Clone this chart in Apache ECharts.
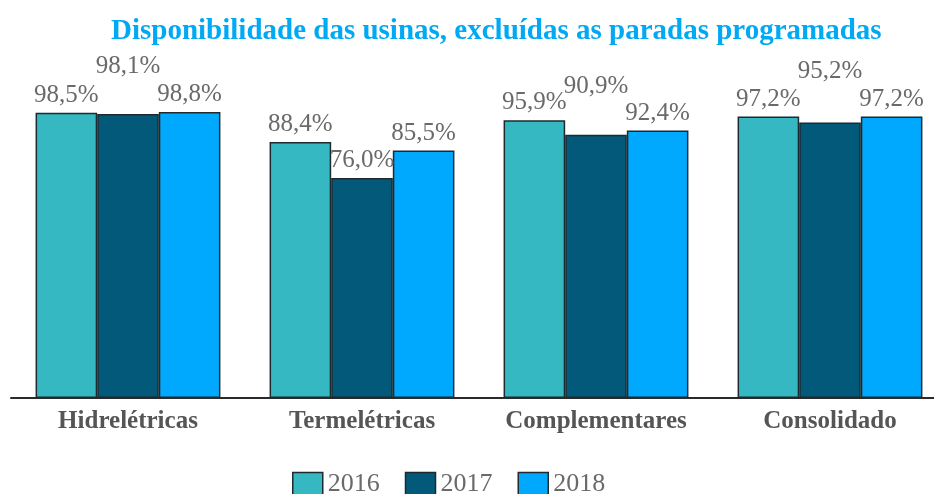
<!DOCTYPE html>
<html>
<head>
<meta charset="utf-8">
<script src="https://cdn.jsdelivr.net/npm/echarts@6/dist/echarts.min.js"></script>
<style>
  html, body { margin: 0; padding: 0; background: #fff; }
  #chart { width: 934px; height: 494px; }
</style>
</head>
<body>
<div id="chart"></div>
<script>
// categorias e valores (%)
var categories = ['Hidrelétricas', 'Termelétricas', 'Complementares', 'Consolidado']
var years = ['2016', '2017', '2018']
var values2016 = [98.5, 88.4, 95.9, 97.2]
var values2017 = [98.1, 76.0, 90.9, 95.2]
var values2018 = [98.8, 85.5, 92.4, 97.2]

// rótulos de 2017 ficam acima dos vizinhos
var lift2017 = [-30, 0, -31, -33]

var colors = ['#35b8c2', '#02597a', '#00a9fd']
var serif = '"Liberation Serif", "DejaVu Serif", serif'

function fmt (v) {
  return v.toFixed(1).replace('.', ',') + '%'
}

function makeSeries (name, data, color, lifts) {
  return {
    name: name,
    type: 'bar',
    barGap: '0%',
    barCategoryGap: '21%',
    data: data.map(function (v, i) {
      var item = { value: v }
      if (lifts) item.label = { offset: [0, lifts[i]] }
      return item
    }),
    itemStyle: {
      color: color,
      borderColor: '#1e2a2e',
      borderWidth: 1.5
    },
    label: {
      show: true,
      position: 'top',
      distance: 5,
      color: '#6a6a6a',
      fontFamily: serif,
      fontSize: 25,
      formatter: function (p) { return fmt(p.value) }
    }
  }
}

var chart = echarts.init(document.getElementById('chart'))
chart.setOption({
  animation: false,
  title: {
    text: 'Disponibilidade das usinas, excluídas as paradas programadas',
    left: 106,
    top: 12,
    textStyle: {
      color: '#00a9f4',
      fontFamily: serif,
      fontWeight: 'bold',
      fontSize: 29
    }
  },
  legend: {
    data: years,
    left: 287,
    top: 466,
    icon: 'rect',
    itemWidth: 30,
    itemHeight: 23,
    itemGap: 25,
    itemStyle: { borderColor: '#1e2a2e', borderWidth: 1.5 },
    textStyle: {
      color: '#6a6a6a',
      fontFamily: serif,
      fontSize: 26
    }
  },
  grid: {
    left: 11,
    width: 936,
    top: 108.5,
    bottom: 96,
    outerBoundsMode: 'none'
  },
  xAxis: {
    type: 'category',
    data: categories,
    axisLine: { lineStyle: { color: '#2a2a2a', width: 2 } },
    axisTick: { show: false },
    axisLabel: {
      interval: 0,
      margin: 11,
      color: '#555',
      fontFamily: serif,
      fontWeight: 'bold',
      fontSize: 25
    }
  },
  yAxis: {
    type: 'value',
    min: 0,
    max: 100,
    show: false,
    splitLine: { show: false }
  },
  series: [
    makeSeries(years[0], values2016, colors[0]),
    makeSeries(years[1], values2017, colors[1], lift2017),
    makeSeries(years[2], values2018, colors[2])
  ]
})
</script>
</body>
</html>
